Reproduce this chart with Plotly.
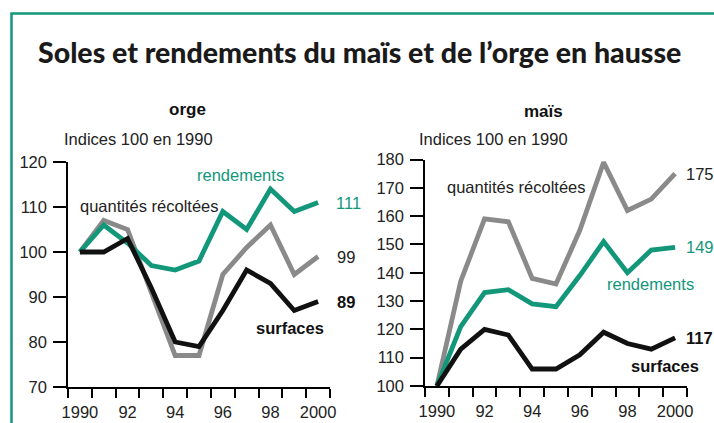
import plotly.graph_objects as go

W, H = 714, 423

years = list(range(1990, 2001))
year_ticks = [1990, 1992, 1994, 1996, 1998, 2000]
year_ticktext = ["1990", "92", "94", "96", "98", "2000"]

orge_rendements = [100, 106, 102, 97, 96, 98, 109, 105, 114, 109, 111]
orge_quantites = [100, 107, 105, 91, 77, 77, 95, 101, 106, 95, 99]
orge_surfaces = [100, 100, 103, 92, 80, 79, 87, 96, 93, 87, 89]

mais_quantites = [100, 137, 159, 158, 138, 136, 155, 179, 162, 166, 175]
mais_rendements = [100, 121, 133, 134, 129, 128, 139, 151, 140, 148, 149]
mais_surfaces = [100, 113, 120, 118, 106, 106, 111, 119, 115, 113, 117]

orge_yticks = [70, 80, 90, 100, 110, 120]
mais_yticks = [100, 110, 120, 130, 140, 150, 160, 170, 180]

GREEN = "#12977a"
GRAY = "#8a8a8a"
BLACK = "#111111"
TXT = "#222222"
NARROW = "Liberation Sans, Arial, sans-serif"
FS = 16.5

def px(x):
    return x / W

def py(y):
    return 1 - y / H

fig = go.Figure()

series = [
    ("x", "y", orge_quantites, GRAY),
    ("x", "y", orge_rendements, GREEN),
    ("x", "y", orge_surfaces, BLACK),
    ("x2", "y2", mais_quantites, GRAY),
    ("x2", "y2", mais_rendements, GREEN),
    ("x2", "y2", mais_surfaces, BLACK),
]
for xa, ya, vals, col in series:
    fig.add_trace(go.Scatter(x=years, y=vals, xaxis=xa, yaxis=ya, mode="lines",
                             line=dict(color=col, width=4.8), hoverinfo="skip",
                             showlegend=False))

boundaries = [y - 0.5 for y in years] + [years[-1] + 0.5]
xr = [1989.5, 2000.5]

common_x = dict(range=xr, showline=True, linecolor="black", linewidth=1.5,
                ticks="", tickmode="array", tickvals=year_ticks, ticktext=year_ticktext,
                tickfont=dict(family=NARROW, size=FS, color=TXT),
                ticklabelstandoff=9,
                minor=dict(ticks="outside", ticklen=9, tickwidth=1.5, tickcolor="black",
                           tickmode="array", tickvals=boundaries, showgrid=False),
                showgrid=False, zeroline=False, fixedrange=True, automargin=False)
common_y = dict(showline=True, linecolor="black", linewidth=1.5,
                ticks="outside", ticklen=13, tickwidth=1.5, tickcolor="black",
                showgrid=False, zeroline=False, fixedrange=True, automargin=False,
                tickfont=dict(family=NARROW, size=FS, color=TXT),
                ticklabelstandoff=3)

fig.update_layout(
    template="none",
    width=W, height=H, autosize=False,
    margin=dict(l=0, r=0, t=0, b=0, pad=0),
    paper_bgcolor="white", plot_bgcolor="white",
    xaxis=dict(domain=[px(68), px(330)], anchor="y", **common_x),
    yaxis=dict(domain=[py(387), py(162)], anchor="x", range=[70, 120],
               tickvals=orge_yticks, **common_y),
    xaxis2=dict(domain=[px(425), px(687)], anchor="y2", **common_x),
    yaxis2=dict(domain=[py(386), py(159.5)], anchor="x2", range=[100, 180],
                tickvals=mais_yticks, **common_y),
)

# frame
fig.add_shape(type="rect", xref="paper", yref="paper",
              x0=px(11.5), x1=1.05, y0=-0.05, y1=py(13.5),
              line=dict(color=GREEN, width=2.5), fillcolor="rgba(0,0,0,0)")

def ann(text, x, y, color=TXT, size=FS, bold=False, xanchor="center", family=NARROW, weight=None):
    f = dict(family=family, size=size, color=color)
    if weight is not None:
        f["weight"] = weight
    elif bold:
        f["weight"] = "bold"
    fig.add_annotation(text=text, x=px(x), y=py(y), xref="paper", yref="paper",
                       xanchor=xanchor, yanchor="middle", showarrow=False, font=f)

ann("Soles et rendements du maïs et de l’orge en hausse", 36, 52, color="#1a1a1a",
    size=28.5, xanchor="left", family="Lato, Open Sans, DejaVu Sans, sans-serif", weight=900)

ann("orge", 187, 110, color="#111", bold=True, size=17)
ann("maïs", 543, 112, color="#111", bold=True, size=17)
ann("Indices 100 en 1990", 62, 139, xanchor="left")
ann("Indices 100 en 1990", 417, 139, xanchor="left")

# left labels
ann("rendements", 240, 175, color=GREEN)
ann("quantités récoltées", 78, 206, xanchor="left")
ann("surfaces", 290, 328, color="#111", bold=True)
# right labels
ann("quantités récoltées", 445, 187, xanchor="left")
ann("rendements", 650, 284, color=GREEN)
ann("surfaces", 665, 366, color="#111", bold=True)

# end values, anchored on data
def endlabel(xa, ya, vals, color, shift, bold=False):
    f = dict(family=NARROW, size=FS, color=color)
    if bold:
        f["weight"] = "bold"
    fig.add_annotation(text=str(vals[-1]), x=years[-1], y=vals[-1], xref=xa, yref=ya,
                       xanchor="left", yanchor="middle", xshift=shift, showarrow=False, font=f)

endlabel("x", "y", orge_rendements, GREEN, 16)
endlabel("x", "y", orge_quantites, TXT, 17)
endlabel("x", "y", orge_surfaces, "#111", 17, bold=True)
endlabel("x2", "y2", mais_quantites, TXT, 9)
endlabel("x2", "y2", mais_rendements, GREEN, 9)
endlabel("x2", "y2", mais_surfaces, "#111", 9, bold=True)

fig.write_html("out.html", config={"displayModeBar": False},
               post_script="document.body.style.margin='0';document.body.style.overflow='hidden';")
